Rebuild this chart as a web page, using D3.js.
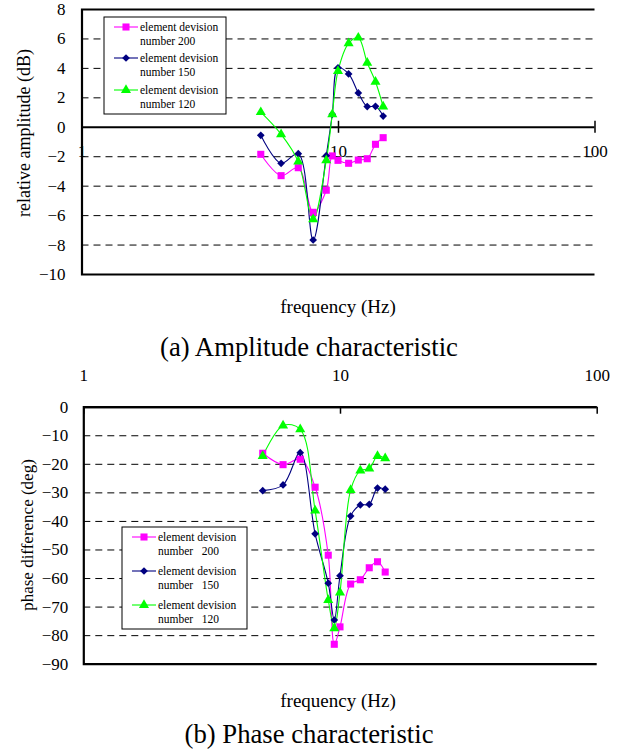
<!DOCTYPE html>
<html>
<head>
<meta charset="utf-8">
<script src="https://cdn.jsdelivr.net/npm/d3@7"></script>
<style>
  html, body { margin: 0; padding: 0; background: #fff; }
  svg { display: block; font-family: "Liberation Serif", "Times New Roman", serif; }
</style>
</head>
<body>
<svg id="chart" width="633" height="753"></svg>
<script>
// ---------- DATA ----------
const freqs = [5, 6, 7, 8, 9, 9.5, 10, 11, 12, 13, 14, 15];
const seriesNames = ["element devision number 200", "element devision number 150", "element devision number 120"];
const legendLinesA = [["element devision", "number 200"], ["element devision", "number 150"], ["element devision", "number 120"]];
const legendLinesB = [["element devision", "number   200"], ["element devision", "number   150"], ["element devision", "number   120"]];

// (a) amplitude, dB
const ampN200 = [-1.87, -3.32, -2.78, -5.81, -4.31, -1.98, -2.28, -2.48, -2.26, -2.17, -1.19, -0.74];
const ampN150 = [-0.58, -2.48, -1.83, -7.69, -1.96, 0.85, 4.01, 3.59, 2.30, 1.37, 1.39, 0.73];
const ampN120 = [0.99, -0.51, -2.37, -6.28, -2.28, 0.85, 3.79, 5.67, 6.05, 4.35, 3.06, 1.37];

// (b) phase, deg
const phN200 = [-16.3, -20.3, -18.4, -28.2, -52.0, -83.2, -77.1, -62.1, -60.6, -56.4, -54.3, -57.9];
const phN150 = [-29.4, -27.4, -16.1, -44.5, -61.8, -74.7, -59.2, -38.3, -34.4, -34.2, -28.5, -28.9];
const phN120 = [-17.3, -6.6, -7.9, -36.4, -67.7, -77.6, -65.1, -29.2, -22.4, -21.7, -17.3, -18.1];

const xTicks = [1, 10, 100];
const ampTicks = [8, 6, 4, 2, 0, -2, -4, -6, -8, -10];
const phTicks = [0, -10, -20, -30, -40, -50, -60, -70, -80, -90];

const colors = ["#ff00ff", "#000080", "#00ff00"];
const symbols = [d3.symbolSquare, d3.symbolDiamond2, d3.symbolTriangle];
const symSizes = [50, 38, 44];

// ---------- DRAW ----------
const svg = d3.select("#chart");
const FONT = '"Liberation Serif", "Times New Roman", serif';

function drawSeries(g, x, y, valuesList) {
  valuesList.forEach((vals, i) => {
    const pts = freqs.map((f, j) => [f, vals[j]]);
    const line = d3.line().x(d => x(d[0])).y(d => y(d[1])).curve(d3.curveCatmullRom.alpha(0.5));
    g.append("path").attr("d", line(pts)).attr("fill", "none")
      .attr("stroke", colors[i]).attr("stroke-width", 1.1);
  });
  valuesList.forEach((vals, i) => {
    g.selectAll(null).data(freqs.map((f, j) => [f, vals[j]])).enter()
      .append("path")
      .attr("d", d3.symbol().type(symbols[i]).size(symSizes[i]))
      .attr("transform", d => `translate(${x(d[0])},${y(d[1])})`)
      .attr("fill", colors[i]);
  });
}

function drawLegend(g, x0, y0, w, h, lines, rowY) {
  g.append("rect").attr("x", x0).attr("y", y0).attr("width", w).attr("height", h)
    .attr("fill", "#fff").attr("stroke", "#000").attr("stroke-width", 1);
  lines.forEach((ln, i) => {
    const yy = y0 + rowY[i];
    g.append("line").attr("x1", x0 + 10).attr("x2", x0 + 34).attr("y1", yy).attr("y2", yy)
      .attr("stroke", colors[i]).attr("stroke-width", 1.1);
    g.append("path").attr("d", d3.symbol().type(symbols[i]).size(symSizes[i]))
      .attr("transform", `translate(${x0 + 22},${yy})`).attr("fill", colors[i]);
    ln.forEach((t, k) => {
      g.append("text").attr("x", x0 + 36).attr("y", yy + 4 + k * 14)
        .attr("font-size", 11.5).attr("font-family", FONT).attr("xml:space", "preserve")
        .style("white-space", "pre").text(t);
    });
  });
}

// ===== Chart (a) =====
{
  const g = svg.append("g");
  const x = d3.scaleLog().domain([1, 100]).range([81.5, 594.5]);
  const y = d3.scaleLinear().domain([-10, 8]).range([274, 9]);

  // grid + y axis
  const ya = g.append("g").attr("transform", `translate(${x(1)},0)`)
    .call(d3.axisLeft(y).tickValues(ampTicks).tickSize(-(x(100) - x(1))).tickPadding(16).tickFormat(d3.format("d")));
  ya.select(".domain").attr("stroke", "#000").attr("stroke-width", 2.2);
  ya.selectAll(".tick line").attr("stroke", "#000").attr("stroke-width", 1).attr("stroke-dasharray", "7,5");
  ya.selectAll(".tick text").attr("font-size", 17).attr("font-family", FONT).attr("fill", "#000");
  ya.selectAll(".tick").filter(d => d === 0).select("line").attr("stroke-dasharray", null).attr("stroke-width", 2);

  // x axis at y=0
  const xa = g.append("g").attr("transform", `translate(0,${y(0)})`)
    .call(d3.axisBottom(x).tickValues(xTicks).tickSize(6).tickFormat(d3.format("d")));
  xa.select(".domain").remove();
  xa.selectAll(".tick line").attr("y1", -6).attr("y2", 6).attr("stroke", "#000").attr("stroke-width", 1.5);
  xa.selectAll(".tick text").attr("font-size", 17).attr("font-family", FONT).attr("fill", "#000")
    .attr("dy", "0.71em").attr("y", 18);

  drawSeries(g, x, y, [ampN200, ampN150, ampN120]);
  drawLegend(g, 104, 17, 122, 97, legendLinesA, [10, 41, 73]);

  g.append("text").attr("x", 24).attr("y", 133).attr("transform", "rotate(-90,24,133)")
    .attr("text-anchor", "middle").attr("dy", "0.35em").attr("font-size", 18).attr("font-family", FONT)
    .text("relative amplitude (dB)");
  g.append("text").attr("x", 338).attr("y", 313).attr("text-anchor", "middle")
    .attr("font-size", 19).attr("font-family", FONT).text("frequency (Hz)");
  g.append("text").attr("x", 309).attr("y", 356).attr("text-anchor", "middle")
    .attr("font-size", 26.7).attr("font-family", FONT).text("(a) Amplitude characteristic");
}

// ===== Chart (b) =====
{
  const g = svg.append("g");
  const x = d3.scaleLog().domain([1, 100]).range([83.3, 596.7]);
  const y = d3.scaleLinear().domain([-90, 0]).range([663.7, 406.7]);

  const ya = g.append("g").attr("transform", `translate(${x(1)},0)`)
    .call(d3.axisLeft(y).tickValues(phTicks).tickSize(-(x(100) - x(1))).tickPadding(15).tickFormat(d3.format("d")));
  ya.select(".domain").attr("stroke", "#000").attr("stroke-width", 2.2);
  ya.selectAll(".tick line").attr("stroke", "#000").attr("stroke-width", 1).attr("stroke-dasharray", "7,5");
  ya.selectAll(".tick text").attr("font-size", 17).attr("font-family", FONT).attr("fill", "#000");
  ya.selectAll(".tick").filter(d => d === 0).select("line").attr("stroke-dasharray", null).attr("stroke-width", 2);

  const xa = g.append("g").attr("transform", `translate(0,${y(0)})`)
    .call(d3.axisTop(x).tickValues(xTicks).tickSize(6).tickPadding(20).tickFormat(d3.format("d")));
  xa.select(".domain").remove();
  xa.selectAll(".tick line").attr("y1", 0).attr("y2", 7).attr("stroke", "#000").attr("stroke-width", 1.5);
  xa.selectAll(".tick text").attr("font-size", 17).attr("font-family", FONT).attr("fill", "#000");

  drawSeries(g, x, y, [phN200, phN150, phN120]);
  drawLegend(g, 122, 527, 125, 102, legendLinesB, [10, 44, 78]);

  g.append("text").attr("x", 27).attr("y", 535).attr("transform", "rotate(-90,27,535)")
    .attr("text-anchor", "middle").attr("dy", "0.35em").attr("font-size", 17).attr("font-family", FONT)
    .text("phase difference (deg)");
  g.append("text").attr("x", 338).attr("y", 707).attr("text-anchor", "middle")
    .attr("font-size", 19).attr("font-family", FONT).text("frequency (Hz)");
  g.append("text").attr("x", 309).attr("y", 743).attr("text-anchor", "middle")
    .attr("font-size", 26.7).attr("font-family", FONT).text("(b) Phase characteristic");
}
</script>
</body>
</html>
